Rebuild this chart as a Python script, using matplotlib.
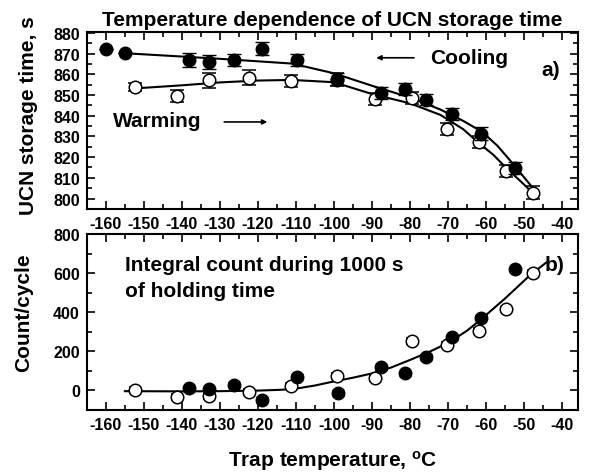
import numpy as np
import matplotlib
matplotlib.use('Agg')
from matplotlib import pyplot as plt
from matplotlib.ticker import MultipleLocator

plt.rcParams['font.family'] = ['Liberation Sans', 'DejaVu Sans']
plt.rcParams['font.weight'] = 'bold'
plt.rcParams['axes.unicode_minus'] = False

# (a) storage time, cooling (filled) and warming (open)
cool_T = [-160, -155, -138.2, -132.9, -126.3, -118.9, -109.6, -99.1, -87.7, -81.3, -75.8, -68.9, -61.2, -52.4]
cool_tau = [872.3, 870.5, 867, 866, 866.8, 872.4, 867, 857.8, 850.9, 853, 847.8, 840.7, 831.4, 814.8]
cool_err = [0, 0, 3.5, 3.5, 3, 3, 3, 3, 3, 3, 2.5, 3, 3, 3]
warm_T = [-152.4, -141.2, -132.9, -122.3, -111.2, -99.3, -89.2, -79.6, -70.2, -61.8, -54.7, -47.7]
warm_tau = [853.8, 849.4, 857.1, 858.4, 856.7, 857.5, 848, 848.5, 833.6, 827.2, 813.3, 802.9]
warm_err = [2, 3, 3.5, 3.5, 3, 3, 3, 3, 3, 3, 3, 3]

# fit curves
fitc_T = [-155, -140, -130, -120, -111, -100, -90, -80, -72, -66, -61, -57, -53, -48]
fitc_tau = [870.2, 868.6, 867.5, 866.3, 865.2, 860.5, 854.5, 848.8, 843, 837.5, 832.2, 825.5, 817, 805.8]
fitw_T = [-152.4, -140, -130, -120, -111, -100, -90, -80, -72, -66, -62, -58, -54.6, -51, -47.6]
fitw_tau = [853.2, 854.7, 856.1, 857, 857.3, 856.2, 850.5, 846, 840.4, 833.5, 827, 821, 814.6, 808.5, 802.6]

# (b) integral count
cnt_cool_T = [-138.2, -132.9, -126.3, -118.9, -109.6, -98.9, -87.7, -81.3, -75.8, -68.9, -61.2, -52.4]
cnt_cool = [9, 4, 29, -48, 69, -14, 118, 86, 171, 271, 372, 620]
cnt_warm_T = [-152.4, -141.4, -132.9, -122.3, -111.2, -99.3, -89.2, -79.6, -70.2, -61.8, -54.7, -47.7]
cnt_warm = [0, -34, -31, -10, 24, 72, 62, 252, 233, 303, 415, 600]
cnt_err = 14

fitb_T = [-155, -140, -130, -120, -114, -110, -105, -100, -95, -90, -85, -80, -75, -70, -65, -61.5, -55, -48.4, -43.6]
fitb = [-5, -6, -5, -2, 2, 8, 24, 45, 64, 86, 116, 155, 196, 242, 305, 360, 470, 590, 663]

fig = plt.figure(figsize=(5.91, 4.77), dpi=100)
ax1 = fig.add_axes([0.147, 0.56, 0.831, 0.371])
ax2 = fig.add_axes([0.147, 0.139, 0.831, 0.368])

for ax in (ax1, ax2):
    ax.set_xlim(-165, -35.8)
    ax.xaxis.set_major_locator(MultipleLocator(10))
    ax.xaxis.set_minor_locator(MultipleLocator(5))
    ax.tick_params(which='both', direction='in', top=True, right=True, width=1.2)
    ax.tick_params(which='major', length=6, labelsize=11.5, pad=5)
    ax.tick_params(which='minor', length=3.5)
    for s in ax.spines.values():
        s.set_linewidth(1.5)

# panel a
ax1.plot(fitc_T, fitc_tau, color='black', lw=1.5, zorder=2)
ax1.plot(fitw_T, fitw_tau, color='black', lw=1.5, zorder=2)
ax1.errorbar(warm_T, warm_tau, yerr=warm_err, fmt='o', ms=9, mfc='white', mec='black',
             mew=1.1, ecolor='black', elinewidth=1, capsize=5, capthick=1, zorder=3)
ax1.errorbar(cool_T, cool_tau, yerr=cool_err, fmt='o', ms=9, mfc='black', mec='black',
             ecolor='black', elinewidth=1, capsize=5, capthick=1, zorder=4)
ax1.set_ylim(795, 880.5)
ax1.yaxis.set_major_locator(MultipleLocator(10))
ax1.yaxis.set_minor_locator(MultipleLocator(5))
ax1.set_ylabel('UCN storage time, s', fontsize=15, fontweight='bold')
ax1.yaxis.set_label_coords(-0.10, 0.53)
ax1.set_title('Temperature dependence of UCN storage time', fontsize=15,
              fontweight='bold', pad=5)
ax1.text(-74.7, 868, 'Cooling', fontsize=15, fontweight='bold', va='center')
ax1.annotate('', xy=(-89.6, 868), xytext=(-78.2, 868),
             arrowprops=dict(arrowstyle='-|>', color='black', lw=1.2, mutation_scale=7))
ax1.text(-158.2, 837.5, 'Warming', fontsize=15, fontweight='bold', va='center')
ax1.annotate('', xy=(-116.8, 837), xytext=(-129.6, 837),
             arrowprops=dict(arrowstyle='-|>', color='black', lw=1.2, mutation_scale=7))
ax1.text(-45.5, 862.5, 'a)', fontsize=15, fontweight='bold', va='center')

# panel b
ax2.plot(fitb_T, fitb, color='black', lw=1.5, zorder=2)
ax2.errorbar(cnt_warm_T, cnt_warm, yerr=cnt_err, fmt='o', ms=9, mfc='white', mec='black',
             mew=1.1, ecolor='black', elinewidth=1, capsize=4, capthick=1, zorder=3)
ax2.errorbar(cnt_cool_T, cnt_cool, yerr=cnt_err, fmt='o', ms=9, mfc='black', mec='black',
             ecolor='black', elinewidth=1, capsize=4, capthick=1, zorder=4)
ax2.set_ylim(-100, 800)
ax2.yaxis.set_major_locator(MultipleLocator(200))
ax2.yaxis.set_minor_locator(MultipleLocator(100))
ax2.set_ylabel('Count/cycle', fontsize=15, fontweight='bold')
ax2.yaxis.set_label_coords(-0.11, 0.556)
ax2.set_xlabel('Trap temperature, $\\mathregular{^oC}$', fontsize=15, fontweight='bold')
ax2.xaxis.set_label_coords(0.501, -0.22)
ax2.text(-155, 646, 'Integral count during 1000 s', fontsize=15, fontweight='bold', va='center')
ax2.text(-155, 509, 'of holding time', fontsize=15, fontweight='bold', va='center')
ax2.text(-44.5, 646, 'b)', fontsize=15, fontweight='bold', va='center')

plt.savefig('out.png', dpi=100)
